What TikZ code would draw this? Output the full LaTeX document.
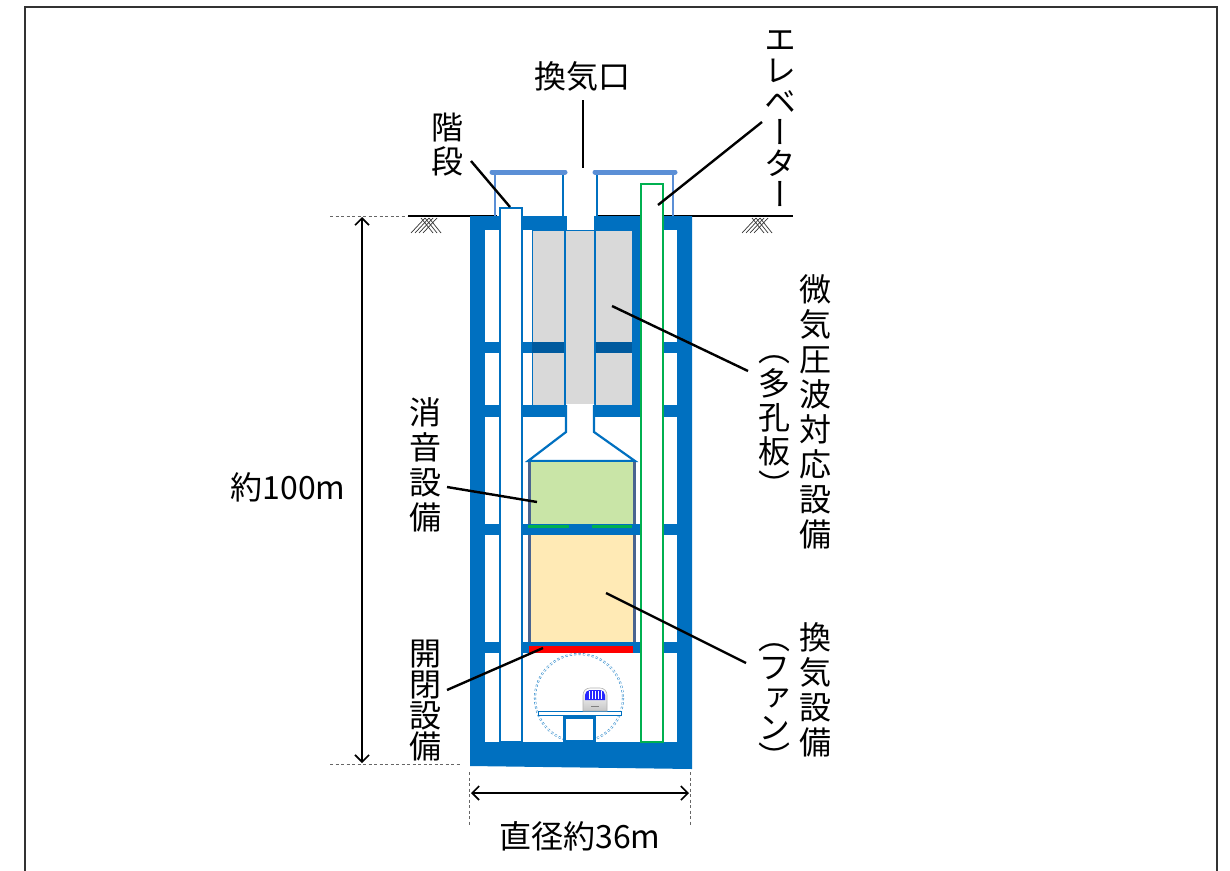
\documentclass[tikz,border=0pt]{standalone}
\usepackage{fontspec}
\newfontfamily\jp{Noto Sans CJK JP}
\newfontfamily\jpv[RawFeature=+vert]{Noto Sans CJK JP}
\usetikzlibrary{arrows.meta}

\definecolor{shaft}{HTML}{0070C0}
\definecolor{shaftdark}{HTML}{005A9E}
\definecolor{canopy}{HTML}{5B8FD6}
\definecolor{plate}{HTML}{D9D9D9}
\definecolor{muffler}{HTML}{C9E5A7}
\definecolor{fanbox}{HTML}{FFEAB5}
\definecolor{slate}{HTML}{4A6490}
\definecolor{lift}{HTML}{00B050}

\tikzset{
  leader/.style={line width=2.4pt, black},
  dimline/.style={line width=1.6pt, black, {Straight Barb[length=7pt,width=14pt]}-{Straight Barb[length=7pt,width=14pt]}},
  extline/.style={line width=.9pt, gray!80!black, dash pattern=on 3pt off 2.5pt},
  hatch/.style={line width=.7pt, black!80},
}

\begin{document}
\begin{tikzpicture}[x=1pt,y=-1pt]
  \useasboundingbox (0,0) rectangle (1230,870);

  % outer frame
  \draw[line width=2pt, black!80] (25,872) -- (25,7) -- (1217,7) -- (1217,872);

  % ground
  \draw[line width=2.4pt] (408,216) -- (497,216);
  \draw[line width=2.4pt] (597,216) -- (793,216);
  \foreach \x in {411,415,419,423} \draw[hatch] (\x,233) -- (\x+14,218);
  \foreach \x in {421,425,429} \draw[hatch] (\x,218) -- (\x+12,233);
  \foreach \x in {742,746,750,754} \draw[hatch] (\x,233) -- (\x+14,218);
  \foreach \x in {752,756,760} \draw[hatch] (\x,218) -- (\x+12,233);

  % canopies over the shaft
  \draw[canopy, line width=2.5pt] (495,172) -- (495,216);
  \draw[canopy, line width=2.5pt] (673,172) -- (673,216);
  \draw[shaft, line width=2pt] (563,172) -- (563,216);
  \draw[shaft, line width=2pt] (597,172) -- (597,216);
  \draw[canopy, line width=5pt, line cap=round] (492,172) -- (565,172);
  \draw[canopy, line width=5pt, line cap=round] (595,172) -- (675,172);

  % shaft body and floors
  \fill[shaft] (470,216) -- (692,216) -- (692,769) -- (470,766) -- cycle;
  \foreach \t/\b in {230/342,353/405,417/524,535/642,653/742} {
    \fill[white] (485,\t) rectangle (500,\b);
    \fill[white] (664,\t) rectangle (677,\b);
  }
  \foreach \t/\b in {417/524,535/642,653/742}
    \fill[white] (522,\t) rectangle (640,\b);
  \foreach \t/\b in {230/342,353/405}
    \fill[white] (522,\t) rectangle (532,\b);

  % porous plates
  \filldraw[fill=plate, draw=shaft, line width=1pt] (532,230) rectangle (632,405);
  \fill[shaftdark] (532,342) rectangle (565,353);
  \fill[shaftdark] (595,342) rectangle (632,353);
  \draw[shaft, line width=2pt] (565,230) -- (565,405);
  \draw[shaft, line width=2pt] (595,230) -- (595,405);
  \fill[white] (567,213) rectangle (594,230);

  % duct neck and silencer
  \fill[white] (566,404) -- (566,432) -- (528,461) -- (635,461) -- (594,432) -- (594,404) -- cycle;
  \draw[shaft, line width=2.2pt] (566,405) -- (566,432) -- (528,461) -- (635,461) -- (594,432) -- (594,405);
  \fill[muffler] (529,462) rectangle (634,524);
  \draw[slate, line width=3pt] (529,462) -- (529,524);
  \draw[slate, line width=3pt] (634,462) -- (634,524);
  \fill[lift] (528,525) rectangle (569,528);
  \fill[lift] (592,525) rectangle (632,528);

  % fan room
  \fill[fanbox] (529,535) rectangle (634,642);
  \draw[slate, line width=3pt] (529,535) -- (529,642);
  \draw[slate, line width=3pt] (634,535) -- (634,642);
  \fill[red] (529,646) rectangle (633,653);

  % tunnel with train
  \draw[shaft!80, line width=.6pt, double=white, double distance=.9pt, dash pattern=on 2.2pt off 2.2pt]
    (579,698) circle (44);
  \filldraw[fill=white, draw=shaft, line width=1pt] (538,711) rectangle (621,715);
  \filldraw[fill=white, draw=shaft, line width=3pt] (564,717) rectangle (594,741);
  \shade[top color=white, bottom color=gray!45, draw=gray!60, line width=.6pt]
    (583,711) [rounded corners=7pt] -- (583,688) -- (607,688) [sharp corners] -- (607,711) -- cycle;
  \fill[blue!85!white] (585,700) [rounded corners=5pt] -- (585,690) -- (605,690) [sharp corners] -- (605,700) -- cycle;
  \foreach \x in {589,592,...,602} \draw[white, line width=.5pt] (\x,691) -- (\x,699);
  \draw[gray, line width=.6pt] (591,706) -- (599,706);

  % stairs and elevator
  \filldraw[fill=white, draw=shaft, line width=1.5pt] (500,208) rectangle (522,742);
  \filldraw[fill=white, draw=lift, line width=2.5pt] (641,184) rectangle (663,742);

  % labels
  \begin{scope}[every node/.style={inner sep=0pt, align=center, font=\jpv\fontsize{32}{35}\selectfont}]
    \node[font=\jp\fontsize{32}{35}\selectfont] (vent) at (582,76) {換気口};
    \node[font=\jpv\fontsize{32}{34}\selectfont] (stair) at (447,145) {階\\段};
    \node[font=\jpv\fontsize{32}{31}\selectfont] (elev) at (780,119) {エ\\レ\\ベ\\ー\\タ\\ー};
    \node (micro) at (815,412) {微\\気\\圧\\波\\対\\応\\設\\備};
    \node[font=\jpv\fontsize{32}{34}\selectfont] (plate) at (774,427) {（\\多\\孔\\板\\）};
    \node (fan) at (815,690) {換\\気\\設\\備};
    \node[font=\jpv\fontsize{32}{30}\selectfont] (fanparen) at (774,707) {（\\フ\\ァ\\ン\\）};
    \node (silencer) at (425,465) {消\\音\\設\\備};
    \node[font=\jpv\fontsize{32}{31}\selectfont] (gate) at (425,701) {開\\閉\\設\\備};
    \node[font=\jp\fontsize{32}{35}\selectfont] (height) at (288,487) {約100m};
    \node[font=\jp\fontsize{32}{35}\selectfont] (width) at (580,836) {直径約36m};
  \end{scope}

  % leader ends
  \coordinate (ventA) at (583,100);
  \coordinate (ventB) at (583,168);
  \coordinate (stairA) at (471,161);
  \coordinate (stairB) at (510,207);
  \coordinate (elevA) at (762,122);
  \coordinate (elevB) at (658,205);
  \coordinate (microA) at (748,371);
  \coordinate (microB) at (612,306);
  \coordinate (fanA) at (746,663);
  \coordinate (fanB) at (606,593);
  \coordinate (silencerA) at (447,487);
  \coordinate (silencerB) at (537,502);
  \coordinate (gateA) at (447,690);
  \coordinate (gateB) at (543,648);

  \draw[leader] (ventA) -- (ventB);
  \draw[leader] (stairA) -- (stairB);
  \draw[leader] (elevA) -- (elevB);
  \draw[leader] (microA) -- (microB);
  \draw[leader] (fanA) -- (fanB);
  \draw[leader] (silencerA) -- (silencerB);
  \draw[leader] (gateA) -- (gateB);

  % dimensions
  \coordinate (htop) at (362,217);
  \coordinate (hbot) at (362,763);
  \coordinate (wleft) at (471,793);
  \coordinate (wright) at (689,793);
  \draw[extline] (330,216) -- (407,216);
  \draw[extline] (330,764) -- (460,764);
  \draw[extline] (469,772) -- (469,825);
  \draw[extline] (690,772) -- (690,825);
  \draw[dimline] (htop) -- (hbot);
  \draw[dimline] (wleft) -- (wright);

\end{tikzpicture}
\end{document}
